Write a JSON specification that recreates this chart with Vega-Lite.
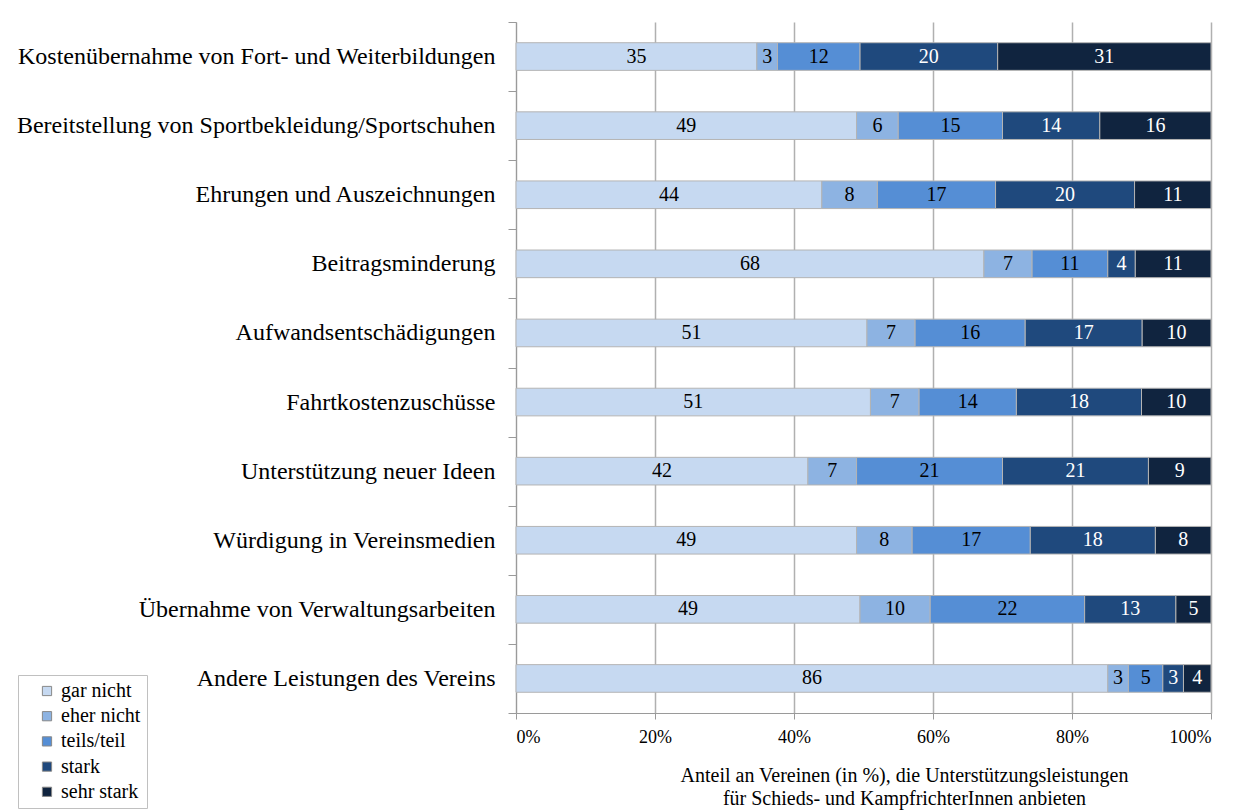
{
  "$schema": "https://vega.github.io/schema/vega-lite/v6.json",
  "width": 695,
  "height": 691,
  "autosize": {"type": "none"},
  "padding": {"left": 516, "top": 22, "right": 37, "bottom": 97},
  "background": "white",
  "config": {
    "font": "Liberation Serif",
    "view": {"stroke": null},
    "axis": {"labelFont": "Liberation Serif", "titleFont": "Liberation Serif", "labelColor": "#000000", "titleColor": "#000000"},
    "legend": {"labelFont": "Liberation Serif", "titleFont": "Liberation Serif"},
    "text": {"font": "Liberation Serif"}
  },
  "data": {
    "values": [
      {"item": "Kostenübernahme von Fort- und Weiterbildungen", "cat": "gar nicht", "k": 1, "value": 35},
      {"item": "Kostenübernahme von Fort- und Weiterbildungen", "cat": "eher nicht", "k": 2, "value": 3},
      {"item": "Kostenübernahme von Fort- und Weiterbildungen", "cat": "teils/teil", "k": 3, "value": 12},
      {"item": "Kostenübernahme von Fort- und Weiterbildungen", "cat": "stark", "k": 4, "value": 20},
      {"item": "Kostenübernahme von Fort- und Weiterbildungen", "cat": "sehr stark", "k": 5, "value": 31},
      {"item": "Bereitstellung von Sportbekleidung/Sportschuhen", "cat": "gar nicht", "k": 1, "value": 49},
      {"item": "Bereitstellung von Sportbekleidung/Sportschuhen", "cat": "eher nicht", "k": 2, "value": 6},
      {"item": "Bereitstellung von Sportbekleidung/Sportschuhen", "cat": "teils/teil", "k": 3, "value": 15},
      {"item": "Bereitstellung von Sportbekleidung/Sportschuhen", "cat": "stark", "k": 4, "value": 14},
      {"item": "Bereitstellung von Sportbekleidung/Sportschuhen", "cat": "sehr stark", "k": 5, "value": 16},
      {"item": "Ehrungen und Auszeichnungen", "cat": "gar nicht", "k": 1, "value": 44},
      {"item": "Ehrungen und Auszeichnungen", "cat": "eher nicht", "k": 2, "value": 8},
      {"item": "Ehrungen und Auszeichnungen", "cat": "teils/teil", "k": 3, "value": 17},
      {"item": "Ehrungen und Auszeichnungen", "cat": "stark", "k": 4, "value": 20},
      {"item": "Ehrungen und Auszeichnungen", "cat": "sehr stark", "k": 5, "value": 11},
      {"item": "Beitragsminderung", "cat": "gar nicht", "k": 1, "value": 68},
      {"item": "Beitragsminderung", "cat": "eher nicht", "k": 2, "value": 7},
      {"item": "Beitragsminderung", "cat": "teils/teil", "k": 3, "value": 11},
      {"item": "Beitragsminderung", "cat": "stark", "k": 4, "value": 4},
      {"item": "Beitragsminderung", "cat": "sehr stark", "k": 5, "value": 11},
      {"item": "Aufwandsentschädigungen", "cat": "gar nicht", "k": 1, "value": 51},
      {"item": "Aufwandsentschädigungen", "cat": "eher nicht", "k": 2, "value": 7},
      {"item": "Aufwandsentschädigungen", "cat": "teils/teil", "k": 3, "value": 16},
      {"item": "Aufwandsentschädigungen", "cat": "stark", "k": 4, "value": 17},
      {"item": "Aufwandsentschädigungen", "cat": "sehr stark", "k": 5, "value": 10},
      {"item": "Fahrtkostenzuschüsse", "cat": "gar nicht", "k": 1, "value": 51},
      {"item": "Fahrtkostenzuschüsse", "cat": "eher nicht", "k": 2, "value": 7},
      {"item": "Fahrtkostenzuschüsse", "cat": "teils/teil", "k": 3, "value": 14},
      {"item": "Fahrtkostenzuschüsse", "cat": "stark", "k": 4, "value": 18},
      {"item": "Fahrtkostenzuschüsse", "cat": "sehr stark", "k": 5, "value": 10},
      {"item": "Unterstützung neuer Ideen", "cat": "gar nicht", "k": 1, "value": 42},
      {"item": "Unterstützung neuer Ideen", "cat": "eher nicht", "k": 2, "value": 7},
      {"item": "Unterstützung neuer Ideen", "cat": "teils/teil", "k": 3, "value": 21},
      {"item": "Unterstützung neuer Ideen", "cat": "stark", "k": 4, "value": 21},
      {"item": "Unterstützung neuer Ideen", "cat": "sehr stark", "k": 5, "value": 9},
      {"item": "Würdigung in Vereinsmedien", "cat": "gar nicht", "k": 1, "value": 49},
      {"item": "Würdigung in Vereinsmedien", "cat": "eher nicht", "k": 2, "value": 8},
      {"item": "Würdigung in Vereinsmedien", "cat": "teils/teil", "k": 3, "value": 17},
      {"item": "Würdigung in Vereinsmedien", "cat": "stark", "k": 4, "value": 18},
      {"item": "Würdigung in Vereinsmedien", "cat": "sehr stark", "k": 5, "value": 8},
      {"item": "Übernahme von Verwaltungsarbeiten", "cat": "gar nicht", "k": 1, "value": 49},
      {"item": "Übernahme von Verwaltungsarbeiten", "cat": "eher nicht", "k": 2, "value": 10},
      {"item": "Übernahme von Verwaltungsarbeiten", "cat": "teils/teil", "k": 3, "value": 22},
      {"item": "Übernahme von Verwaltungsarbeiten", "cat": "stark", "k": 4, "value": 13},
      {"item": "Übernahme von Verwaltungsarbeiten", "cat": "sehr stark", "k": 5, "value": 5},
      {"item": "Andere Leistungen des Vereins", "cat": "gar nicht", "k": 1, "value": 86},
      {"item": "Andere Leistungen des Vereins", "cat": "eher nicht", "k": 2, "value": 3},
      {"item": "Andere Leistungen des Vereins", "cat": "teils/teil", "k": 3, "value": 5},
      {"item": "Andere Leistungen des Vereins", "cat": "stark", "k": 4, "value": 3},
      {"item": "Andere Leistungen des Vereins", "cat": "sehr stark", "k": 5, "value": 4}
    ]
  },
  "encoding": {
    "y": {
      "field": "item",
      "type": "nominal",
      "sort": null,
      "scale": {"paddingInner": 0, "paddingOuter": 0},
      "axis": {
        "title": null,
        "labelFont": "Liberation Serif",
        "labelFontSize": 24,
        "labelPadding": 13,
        "labelLimit": 600,
        "tickBand": "extent",
        "tickSize": 8,
        "tickColor": "#9a9a9a",
        "domainColor": "#9a9a9a",
        "grid": false
      }
    }
  },
  "layer": [
    {
      "mark": {"type": "bar", "height": {"band": 0.4}, "stroke": "#b4b4b4", "strokeWidth": 1},
      "encoding": {
        "x": {
          "field": "value",
          "type": "quantitative",
          "stack": "normalize",
          "scale": {"domain": [0, 1], "nice": false},
          "axis": {
            "format": ".0%",
            "values": [0, 0.2, 0.4, 0.6, 0.8, 1],
            "labelFont": "Liberation Serif",
            "labelFontSize": 18,
            "labelPadding": 9,
            "tickSize": 6,
            "tickColor": "#9a9a9a",
            "domainColor": "#9a9a9a",
            "gridColor": "#b0b0b0",
            "gridWidth": 1.5,
            "title": ["Anteil  an Vereinen  (in %), die Unterstützungsleistungen", "für  Schieds-  und  KampfrichterInnen  anbieten"],
            "titleFont": "Liberation Serif",
            "titleFontSize": 20,
            "titleFontWeight": "normal",
            "titlePadding": 19,
            "titleLineHeight": 23,
            "titleX": 388,
            "titleAlign": "center"
          }
        },
        "color": {
          "field": "cat",
          "type": "nominal",
          "scale": {
            "domain": ["gar nicht", "eher nicht", "teils/teil", "stark", "sehr stark"],
            "range": ["#c6d9f1", "#8db3e2", "#558ed5", "#1f497d", "#10243f"]
          },
          "legend": {
            "title": null,
            "orient": "none",
            "legendX": -498,
            "legendY": 653,
            "direction": "vertical",
            "symbolType": "square",
            "symbolSize": 85,
            "symbolOffset": 13,
            "symbolStrokeColor": "#888888",
            "symbolStrokeWidth": 1,
            "labelFont": "Liberation Serif",
            "labelFontSize": 20,
            "labelColor": "#000000",
            "rowPadding": 5.2,
            "labelOffset": 4,
            "strokeColor": "#c0c0c0",
            "padding": 6,
            "offset": 0
          }
        },
        "order": {"field": "k", "type": "quantitative"}
      }
    },
    {
      "transform": [
        {"stack": "value", "groupby": ["item"], "sort": [{"field": "k", "order": "ascending"}], "offset": "normalize", "as": ["x0", "x1"]},
        {"fold": ["x0", "x1"], "as": ["edge", "pos"]},
        {"aggregate": [{"op": "mean", "field": "pos", "as": "mid"}], "groupby": ["item", "cat", "value"]}
      ],
      "mark": {"type": "text", "font": "Liberation Serif", "fontSize": 20, "baseline": "middle", "align": "center"},
      "encoding": {
        "x": {"field": "mid", "type": "quantitative"},
        "text": {"field": "value", "type": "quantitative"},
        "color": {
          "field": "cat",
          "type": "nominal",
          "scale": {
            "domain": ["gar nicht", "eher nicht", "teils/teil", "stark", "sehr stark"],
            "range": ["#000000", "#000000", "#000000", "#ffffff", "#ffffff"]
          },
          "legend": null
        }
      }
    }
  ],
  "resolve": {"scale": {"color": "independent"}}
}
